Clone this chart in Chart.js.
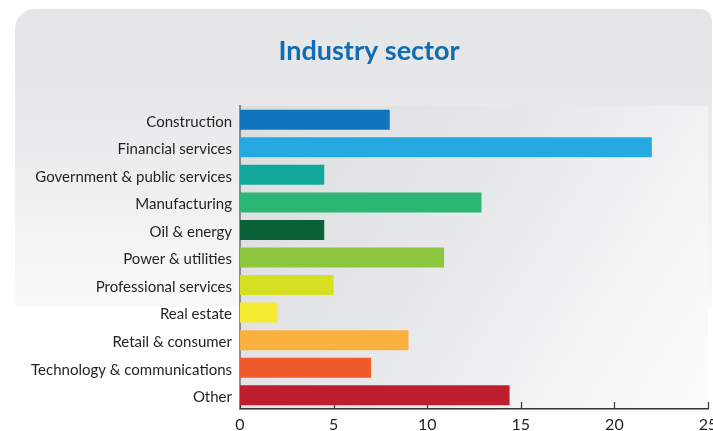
<!DOCTYPE html>
<html>
<head>
<meta charset="utf-8">
<title>Industry sector</title>
<script src="https://cdn.jsdelivr.net/npm/chart.js@4"></script>
<style>
  html, body { margin: 0; padding: 0; background: #fff; overflow: hidden; }
  #card {
    position: absolute; left: 15px; top: 9px; width: 697px; height: 298px;
    border-radius: 20px 12px 0 0;
    background: linear-gradient(180deg, #e4e5e7 0%, #e9e9eb 35%, #f3f3f4 75%, #f9f9f9 100%);
  }
  #wrap { position: absolute; left: 0; top: 0; width: 713px; height: 450px; }
</style>
</head>
<body>
<div id="card"></div>
<div id="wrap"><canvas id="sectorChart"></canvas></div>
<script>
const sectors = [
  'Construction',
  'Financial services',
  'Government & public services',
  'Manufacturing',
  'Oil & energy',
  'Power & utilities',
  'Professional services',
  'Real estate',
  'Retail & consumer',
  'Technology & communications',
  'Other'
];
const shares = [8, 22, 4.5, 12.9, 4.5, 10.9, 5, 2, 9, 7, 14.4];
const barColors = [
  '#1075bc', '#25a9e1', '#11a89c', '#2bb673', '#0b6137', '#8dc63f',
  '#d7df23', '#f4eb32', '#fbb040', '#f15a2b', '#be1e2d'
];
const xTicks = [0, 5, 10, 15, 20, 25];

// grey wash behind the bars, fading out toward the bottom right
const plotBackdrop = {
  id: 'plotBackdrop',
  beforeDraw(chart) {
    const { ctx, chartArea: a } = chart;
    const g = ctx.createLinearGradient(a.left, a.top, a.right, a.bottom);
    g.addColorStop(0, '#dcdde0');
    g.addColorStop(0.45, '#e7e8ea');
    g.addColorStop(1, '#fdfdfd');
    ctx.save();
    ctx.fillStyle = g;
    ctx.fillRect(a.left, a.top, a.right - a.left, a.bottom - a.top);
    ctx.restore();
  }
};

// short tick marks pointing up from the x axis, drawn under the bars
const innerTicks = {
  id: 'innerTicks',
  beforeDatasetsDraw(chart) {
    const { ctx, chartArea: a } = chart;
    const x = chart.scales.x;
    ctx.save();
    ctx.strokeStyle = '#333';
    ctx.lineWidth = 1.2;
    x.ticks.forEach(t => {
      const px = Math.round(x.getPixelForValue(t.value)) + 0.5;
      ctx.beginPath();
      ctx.moveTo(px, a.bottom);
      ctx.lineTo(px, a.bottom - 7);
      ctx.stroke();
    });
    ctx.restore();
  }
};

// let the last tick label run off the edge instead of shrinking the plot
const noLabelPadding = s => {
  s.paddingLeft = 0;
  s.paddingRight = 0;
  s.paddingTop = 0;
  s.paddingBottom = 0;
};

const ctx = document.getElementById('sectorChart').getContext('2d');
const sectorChart = new Chart(ctx, {
  type: 'bar',
  data: {
    labels: sectors,
    datasets: [{
      data: shares,
      backgroundColor: barColors,
      borderWidth: 0,
      barPercentage: 0.726,
      categoryPercentage: 1
    }]
  },
  options: {
    indexAxis: 'y',
    responsive: true,
    maintainAspectRatio: false,
    animation: false,
    devicePixelRatio: 1,
    layout: {
      autoPadding: false,
      padding: { left: 30, right: 5, top: 0, bottom: 9.8 }
    },
    plugins: {
      legend: { display: false },
      tooltip: { enabled: false },
      title: {
        display: true,
        text: 'Industry sector',
        color: '#0f6cb0',
        font: { family: 'Lato', size: 27, weight: 'bold', lineHeight: 1.2 },
        padding: { top: 35, bottom: 38.6 }
      }
    },
    scales: {
      x: {
        type: 'linear',
        min: 0,
        max: 25,
        afterBuildTicks: s => { s.ticks = xTicks.map(v => ({ value: v })); },
        afterFit: noLabelPadding,
        ticks: {
          color: '#231f20',
          padding: 6,
          maxRotation: 0,
          font: { family: 'Lato', size: 16, lineHeight: 1.2 }
        },
        grid: { display: false, drawTicks: false },
        border: { display: true, color: '#333', width: 1.5 }
      },
      y: {
        afterFit: s => { s.width = 210; noLabelPadding(s); },
        ticks: {
          color: '#231f20',
          padding: 8,
          labelOffset: 2,
          font: { family: 'Lato', size: 15, lineHeight: 1.2 }
        },
        grid: { display: false, drawTicks: false },
        border: { display: true, color: '#8c8c8c', width: 2 }
      }
    }
  },
  plugins: [plotBackdrop, innerTicks]
});
</script>
</body>
</html>
